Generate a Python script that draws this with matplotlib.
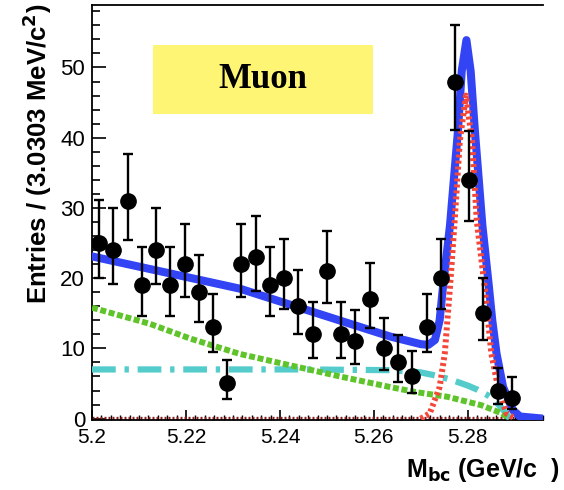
import numpy as np
import matplotlib
matplotlib.use("Agg")
import matplotlib.pyplot as plt
from matplotlib.ticker import MultipleLocator

plt.rcParams['font.family'] = ['Liberation Sans', 'DejaVu Sans']

# ---- data: binned counts (33 bins from 5.20 to 5.30 GeV, 3.0303 MeV each) ----
bin_lo, bin_hi, n_bins = 5.20, 5.30, 33
counts = [25, 24, 31, 19, 24, 19, 22, 18, 13, 5,
          22, 23, 19, 20, 16, 12, 21, 12, 11, 17,
          10, 8, 6, 13, 20, 48, 34, 15, 4, 3]

# ---- fit curves ----
total_x = [5.2000, 5.2315, 5.2634, 5.2700, 5.2716, 5.2730, 5.2740, 5.2747, 5.2762,
           5.2779, 5.2787, 5.2797, 5.2806, 5.2815, 5.2831, 5.2845, 5.2852, 5.2861,
           5.2875, 5.2896, 5.2911, 5.2960]
total_y = [23.1, 18.5, 11.7, 10.6, 10.5, 11.2, 14.0, 18.7, 27.5,
           41.0, 49.5, 53.9, 49.5, 41.0, 27.5, 18.7, 14.0, 9.3,
           4.5, 1.2, 0.3, 0.0]

signal_x = [5.2700, 5.2719, 5.2740, 5.2751, 5.2762, 5.2772, 5.2783, 5.2796,
            5.2809, 5.2819, 5.2836, 5.2850, 5.2864, 5.2882, 5.2900]
signal_y = [0.0, 0.75, 4.5, 9.3, 18.7, 28.2, 39.6, 46.0,
            39.6, 28.2, 18.7, 9.3, 4.5, 0.75, 0.0]

cont_x = [5.2000, 5.2123, 5.2209, 5.2315, 5.2421, 5.2528, 5.2634, 5.2687,
          5.2757, 5.2829, 5.2872, 5.2889]
cont_y = [15.8, 13.5, 11.4, 9.2, 7.6, 6.0, 4.5, 3.8, 3.1, 1.9, 0.75, 0.0]

bb_x = [5.2000, 5.2443, 5.2634, 5.2698, 5.2734, 5.2766, 5.2800, 5.2821,
        5.2843, 5.2857, 5.2872, 5.2883, 5.2889]
bb_y = [7.0, 7.0, 6.9, 6.6, 6.1, 5.5, 4.7, 4.1, 3.3, 2.6, 1.5, 0.6, 0.0]

peak_x = [5.2000, 5.2960]
peak_y = [0.15, 0.15]

label_text = "Muon"

# ---- figure ----
W, H = 564, 490
fig = plt.figure(figsize=(W / 100, H / 100), dpi=100)
ax = fig.add_axes([92 / W, 1 - 420 / H, (543 - 92) / W, (420 - 5) / H])

edges = np.linspace(bin_lo, bin_hi, n_bins + 1)
centers = 0.5 * (edges[:-1] + edges[1:])[:len(counts)]
n = np.array(counts, dtype=float)
err_lo = np.sqrt(np.maximum(n - 0.25, 0))
err_hi = np.sqrt(n + 0.75) + 1

ax.plot(peak_x, peak_y, color='#8b1a1a', lw=2.4, ls=(0, (0.6, 0.6)), zorder=2)
ax.plot(bb_x, bb_y, color='#55cccc', lw=4.5, ls=(0, (3.8, 1.4, 0.7, 1.4)), zorder=3)
ax.plot(cont_x, cont_y, color='#5ec42a', lw=4.3, ls=(0, (1.0, 0.45)), zorder=3)
ax.plot(total_x, total_y, color='#3344f4', lw=5.8, solid_capstyle='round', zorder=4)
ax.plot(signal_x, signal_y, color='#f4473a', lw=4.3, ls=(0, (0.5, 0.5)), zorder=5)

ax.errorbar(centers, n, yerr=[err_lo, err_hi], fmt='o', color='black', ms=11,
            elinewidth=1.7, capsize=3.3, capthick=1.7, zorder=6)

ax.set_xlim(5.2, 5.296)
ax.set_ylim(-0.2, 58.9)

ax.xaxis.set_major_locator(MultipleLocator(0.02))
ax.xaxis.set_minor_locator(MultipleLocator(0.002))
ax.yaxis.set_major_locator(MultipleLocator(10))
ax.yaxis.set_minor_locator(MultipleLocator(2))
ax.xaxis.set_major_formatter(matplotlib.ticker.FuncFormatter(
    lambda v, p: "5.2" if abs(v - 5.2) < 1e-9 else f"{v:.2f}"))

ax.tick_params(axis='both', which='both', direction='in', top=False, right=False,
               colors='black')
ax.tick_params(axis='y', which='major', length=10, width=1.2, pad=5, labelsize=16)
ax.tick_params(axis='y', which='minor', length=5.5, width=1.2)
ax.tick_params(axis='x', which='major', length=7, width=1.2, pad=6, labelsize=15)
ax.tick_params(axis='x', which='minor', length=3.5, width=1.0)

ax.spines['right'].set_visible(False)
for s in ['left', 'top', 'bottom']:
    ax.spines[s].set_linewidth(1.3)

# label box
fig.patches.append(plt.Rectangle((153 / W, 1 - 114 / H), 220 / W, 69 / H,
                                 transform=fig.transFigure, facecolor='#fff574',
                                 edgecolor='none', zorder=1))
fig.text(263 / W, 1 - 80 / H, label_text, ha='center', va='center', fontsize=25,
         fontweight='bold', family=['Liberation Serif', 'DejaVu Serif'], zorder=10)

fig.text(37 / W, 1 - 4 / H, r"Entries / (3.0303 MeV/c$^{\mathbf{2}}$)", rotation=90,
         ha='center', va='top', fontsize=18.5, fontweight='bold')
fig.text(406 / W, 1 - 470 / H, r"M$_{\mathbf{bc}}$ (GeV/c  )", ha='left', va='center',
         fontsize=18, fontweight='bold')

fig.savefig("out.png", dpi=100)
